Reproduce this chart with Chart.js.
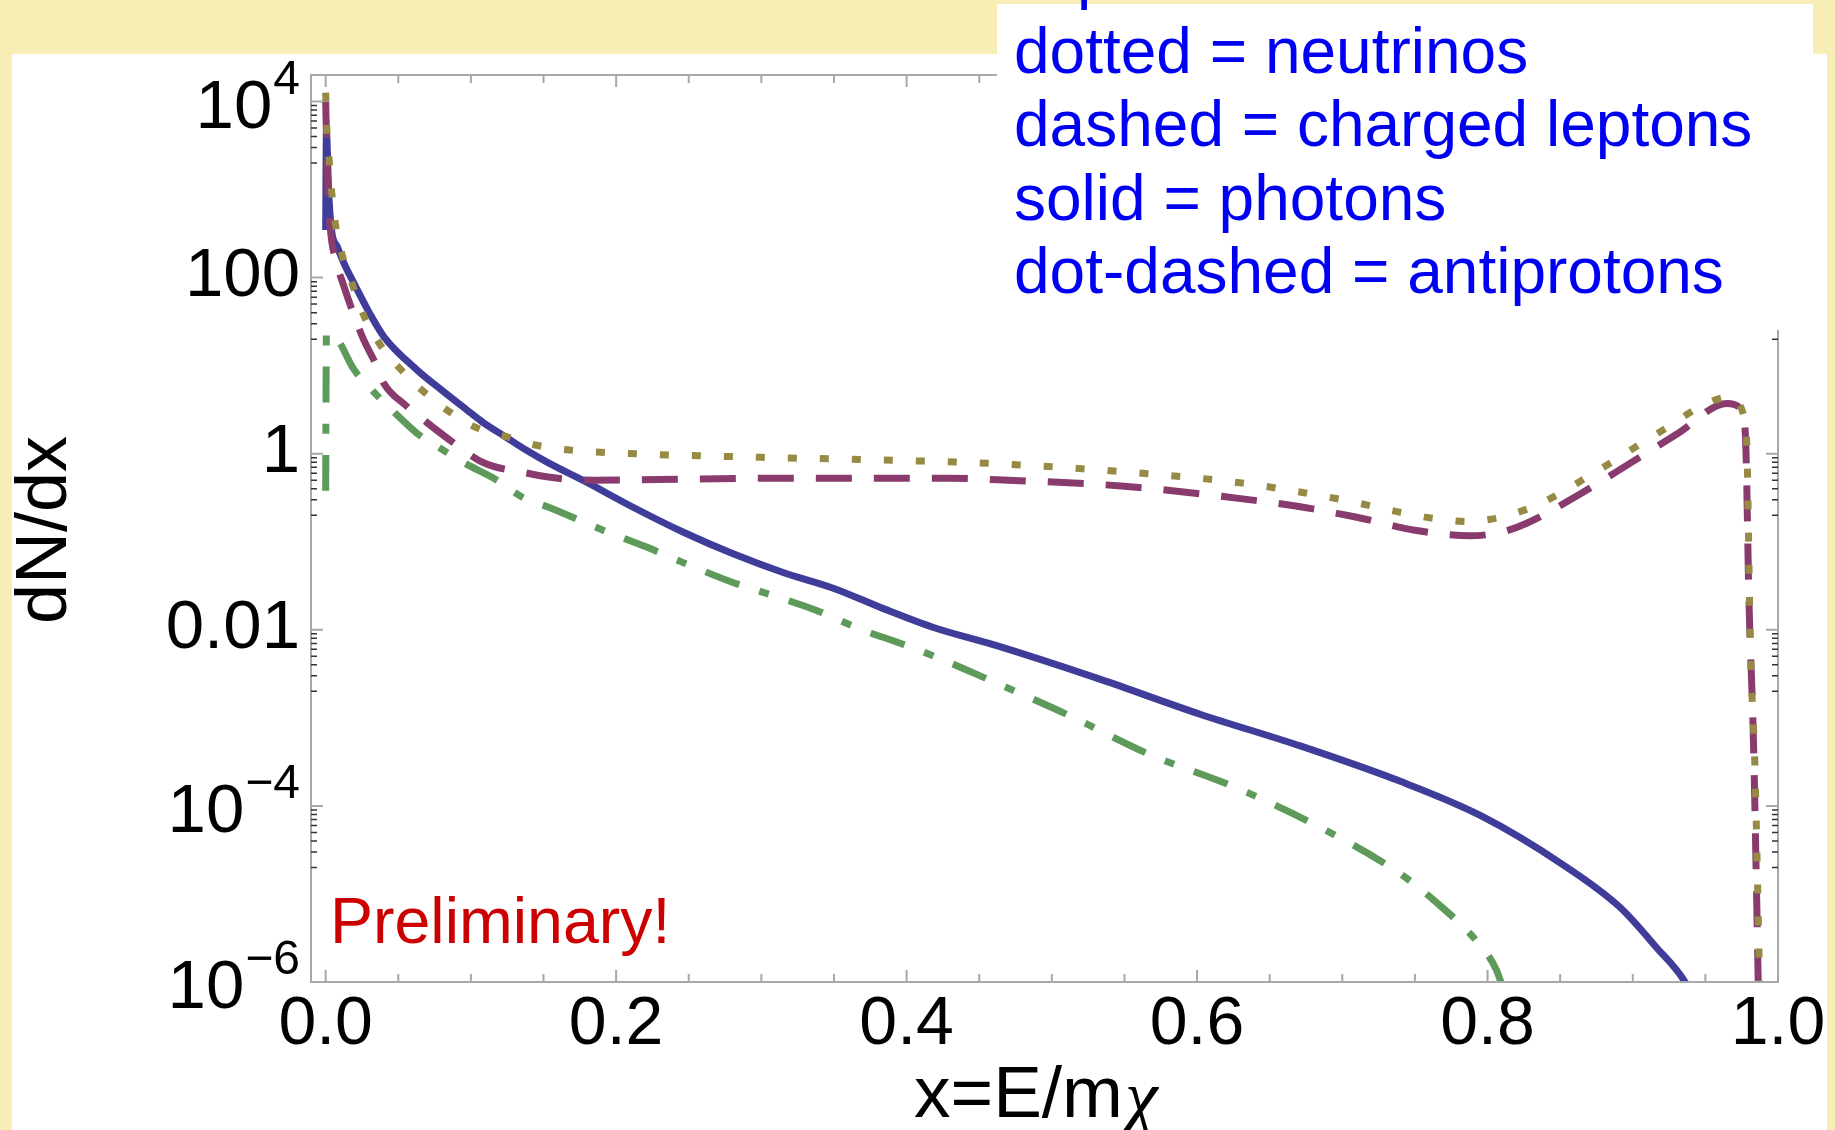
<!DOCTYPE html>
<html>
<head>
<meta charset="utf-8">
<script src="https://cdn.jsdelivr.net/npm/chart.js@4.4.1/dist/chart.umd.min.js"></script>
<style>
  html, body { margin: 0; padding: 0; background: #f7edb5; overflow: hidden; }
  canvas { display: block; }
</style>
</head>
<body>
<canvas id="spectra" width="1835" height="1130"></canvas>
<script>
// values: x = E/m_chi, dN/dx
const photonX = [0, 0.0005, 0.002, 0.004, 0.008, 0.013, 0.02, 0.03, 0.04, 0.063, 0.08, 0.097, 0.108, 0.125, 0.138,
  0.154, 0.177, 0.212, 0.246, 0.281, 0.315, 0.35, 0.384, 0.418, 0.462, 0.533, 0.602, 0.671, 0.74, 0.795,
  0.851, 0.891, 0.916, 0.936, 0.945];
const photonY = [347, 4470, 1000, 347, 224, 141, 83, 40, 21.4, 8.9, 5.25, 3.16, 2.29, 1.51, 1.10,
  0.776, 0.50, 0.245, 0.129, 0.0724, 0.0447, 0.0295, 0.0174, 0.0107, 0.0066, 0.00275, 0.0011, 0.00048, 0.00019, 7.8e-5,
  2.2e-5, 7.1e-6, 2.5e-6, 1.0e-6, 5e-7];

const leptonX = [0, 0.001, 0.003, 0.007, 0.012, 0.02, 0.026, 0.035, 0.04, 0.055, 0.07, 0.09, 0.108, 0.14, 0.16,
  0.184, 0.3, 0.43, 0.47, 0.55, 0.63, 0.67, 0.71, 0.75, 0.788, 0.81, 0.827, 0.862, 0.898, 0.931,
  0.965, 0.976, 0.978, 0.98, 0.983, 0.987];
const leptonY = [10000, 2000, 400, 158, 85, 35.5, 20, 10, 6.3, 3.55, 2.24, 1.26, 0.8, 0.596, 0.525,
  0.50, 0.525, 0.525, 0.50, 0.427, 0.309, 0.251, 0.19, 0.135, 0.117, 0.129, 0.162, 0.335, 0.776, 1.70,
  3.72, 2.95, 1.0, 0.0214, 6.3e-4, 3e-7];

const nuX = [0, 0.0007, 0.0023, 0.004, 0.0064, 0.011, 0.018, 0.026, 0.037, 0.051, 0.075, 0.103, 0.125, 0.146, 0.168,
  0.2, 0.3, 0.38, 0.457, 0.568, 0.634, 0.699, 0.74, 0.765, 0.787, 0.809, 0.83, 0.85, 0.869, 0.888,
  0.907, 0.926, 0.944, 0.966, 0.9775, 0.9787, 0.981, 0.984, 0.988];
const nuY = [12600, 5250, 2290, 1000, 437, 191, 87, 38, 17.8, 9.3, 4.0, 2.0, 1.55, 1.24, 1.10,
  1.02, 0.91, 0.85, 0.776, 0.589, 0.457, 0.302, 0.216, 0.182, 0.17, 0.19, 0.245, 0.355, 0.55, 0.85,
  1.35, 2.09, 3.24, 4.37, 2.29, 1.0, 0.0063, 3.2e-4, 3e-7];

const pbarX = [0, 0.0005, 0.004, 0.0085, 0.019, 0.032, 0.046, 0.063, 0.079, 0.096, 0.118, 0.136, 0.154, 0.191, 0.221,
  0.251, 0.28, 0.308, 0.338, 0.368, 0.397, 0.425, 0.453, 0.51, 0.568, 0.625, 0.683, 0.738, 0.763, 0.795,
  0.806, 0.815];
const pbarY = [0.38, 23.4, 22.4, 19.5, 9.3, 5.25, 3.09, 1.70, 1.15, 0.776, 0.50, 0.316, 0.245, 0.135, 0.087,
  0.0537, 0.0347, 0.0245, 0.0166, 0.0102, 0.0069, 0.00457, 0.00288, 0.0011, 3.8e-4, 1.66e-4, 5.9e-5, 1.78e-5, 8.5e-6, 2.6e-6,
  1.38e-6, 5e-7];

const xTickValues = [0, 0.2, 0.4, 0.6, 0.8, 1.0];
const xTickLabels = ["0.0", "0.2", "0.4", "0.6", "0.8", "1.0"];
const xMinorTicks = [0.05, 0.1, 0.15, 0.25, 0.3, 0.35, 0.45, 0.5, 0.55, 0.65, 0.7, 0.75, 0.85, 0.9, 0.95];
const yTickValues = [1e-6, 1e-4, 0.01, 1, 100, 1e4];
const yTickLabels = [["10", "\u22126"], ["10", "\u22124"], ["0.01", ""], ["1", ""], ["100", ""], ["10", "4"]];
const minorFactors = [0.9, 0.8, 0.7, 0.6, 0.5, 0.4, 0.3, 0.2];

const legendLines = ["dotted = neutrinos", "dashed = charged leptons", "solid = photons", "dot-dashed = antiprotons"];

const FONT = "'Liberation Sans', Arial, sans-serif";

function pts(xs, ys) {
  return xs.map((x, i) => ({ x: x, y: ys[i] }));
}

const backdrop = {
  id: "backdrop",
  beforeDraw(chart) {
    const c = chart.ctx;
    c.save();
    c.fillStyle = "#f7edb5";
    c.fillRect(0, 0, chart.width, chart.height);
    c.fillStyle = "#ffffff";
    c.fillRect(12, 54, 1815, 1076);
    c.restore();
  }
};

// Mathematica style frame with inward ticks on all four sides
const frame = {
  id: "frame",
  afterDatasetsDraw(chart) {
    const c = chart.ctx, a = chart.chartArea;
    const xs = chart.scales.x, ys = chart.scales.y;
    c.save();
    c.lineWidth = 2;
    c.strokeStyle = "#a8a8a8";
    c.strokeRect(a.left, a.top, a.right - a.left, a.bottom - a.top);

    c.beginPath();
    xTickValues.forEach(v => {
      const px = xs.getPixelForValue(v);
      c.moveTo(px, a.bottom); c.lineTo(px, a.bottom - 12);
      c.moveTo(px, a.top); c.lineTo(px, a.top + 12);
    });
    xMinorTicks.forEach(v => {
      const px = xs.getPixelForValue(v);
      c.moveTo(px, a.bottom); c.lineTo(px, a.bottom - 8);
      c.moveTo(px, a.top); c.lineTo(px, a.top + 8);
    });
    yTickValues.forEach(v => {
      const py = ys.getPixelForValue(v);
      c.moveTo(a.left, py); c.lineTo(a.left + 12, py);
      c.moveTo(a.right, py); c.lineTo(a.right - 12, py);
    });
    c.stroke();

    c.strokeStyle = "#333333";
    c.lineWidth = 1.5;
    c.beginPath();
    yTickValues.slice(1).forEach(m => {
      minorFactors.forEach(f => {
        const py = ys.getPixelForValue(m * f);
        c.moveTo(a.left, py); c.lineTo(a.left + 6, py);
        c.moveTo(a.right, py); c.lineTo(a.right - 6, py);
      });
    });
    c.stroke();
    c.restore();
  }
};

const annotations = {
  id: "annotations",
  afterDraw(chart) {
    const c = chart.ctx, ys = chart.scales.y;
    c.save();

    // y tick labels with superscript powers
    c.fillStyle = "#000000";
    c.textAlign = "right";
    c.textBaseline = "alphabetic";
    yTickValues.forEach((v, i) => {
      const py = ys.getPixelForValue(v);
      const base = yTickLabels[i][0], sup = yTickLabels[i][1];
      if (sup) {
        c.font = "48px " + FONT;
        const w = c.measureText(sup).width;
        c.fillText(sup, 300, py + 26 - 34);
        c.font = "69px " + FONT;
        c.fillText(base, 300 - w - 1, py + 26);
      } else {
        c.font = "69px " + FONT;
        c.fillText(base, 300, py + 18);
      }
    });

    // axis titles
    c.textAlign = "left";
    c.font = "73px " + FONT;
    c.fillText("x=E/m", 914, 1117);
    const w = c.measureText("x=E/m").width;
    c.font = "italic 74px 'Liberation Serif', 'DejaVu Serif', serif";
    c.fillText("\u03c7", 914 + w + 2, 1121);

    c.save();
    c.translate(66, 530);
    c.rotate(-Math.PI / 2);
    c.textAlign = "center";
    c.font = "72px " + FONT;
    c.fillText("dN/dx", 0, 0);
    c.restore();

    // Preliminary stamp
    c.textAlign = "left";
    c.fillStyle = "#cc0000";
    c.font = "64.5px " + FONT;
    c.fillText("Preliminary!", 330, 943);

    // legend box over the top right of the frame
    c.fillStyle = "#ffffff";
    c.fillRect(997, 4, 816, 326);
    c.fillStyle = "#0000f2";
    c.font = "64px " + FONT;
    c.fillText("p", 1077, -3);
    legendLines.forEach((t, i) => {
      c.fillText(t, 1014, 73 + i * 73.3);
    });
    c.restore();
  }
};

const ctx = document.getElementById("spectra");

new Chart(ctx, {
  type: "line",
  data: {
    datasets: [
      {
        label: "antiprotons",
        data: pts(pbarX, pbarY),
        borderColor: "#5e9b5b",
        borderWidth: 7,
        borderDash: [36, 21, 10, 21],
        borderCapStyle: "butt",
      },
      {
        label: "neutrinos",
        data: pts(nuX, nuY),
        borderColor: "#978a45",
        borderWidth: 7,
        borderDash: [9, 23],
        borderCapStyle: "butt",
      },
      {
        label: "charged leptons",
        data: pts(leptonX, leptonY),
        borderColor: "#8a3b6e",
        borderWidth: 7,
        borderDash: [36, 22],
        borderCapStyle: "butt",
      },
      {
        label: "photons",
        data: pts(photonX, photonY),
        borderColor: "#3f3d99",
        borderWidth: 7,
      },
    ],
  },
  options: {
    responsive: false,
    animation: false,
    events: [],
    devicePixelRatio: 1,
    datasets: {
      line: { pointRadius: 0, cubicInterpolationMode: "monotone", fill: false, clip: 0 },
    },
    layout: { padding: { left: 0, top: 75, right: 57, bottom: 0 } },
    scales: {
      x: {
        type: "linear",
        min: -0.0101,
        max: 1.0,
        afterFit: (s) => { s.height = 148; },
        afterBuildTicks: (s) => { s.ticks = xTickValues.map(v => ({ value: v })); },
        ticks: {
          callback: (v, i) => xTickLabels[i],
          font: { family: FONT, size: 68 },
          color: "#000000",
          padding: 2,
          maxRotation: 0,
          autoSkip: false,
        },
        grid: { display: false, drawTicks: false },
        border: { display: false },
      },
      y: {
        type: "logarithmic",
        min: 1e-6,
        max: 2e4,
        afterFit: (s) => { s.width = 311; },
        ticks: { display: false },
        grid: { display: false },
        border: { display: false },
      },
    },
    plugins: {
      legend: { display: false },
      title: { display: false },
      tooltip: { enabled: false },
    },
  },
  plugins: [backdrop, frame, annotations],
});
</script>
</body>
</html>
